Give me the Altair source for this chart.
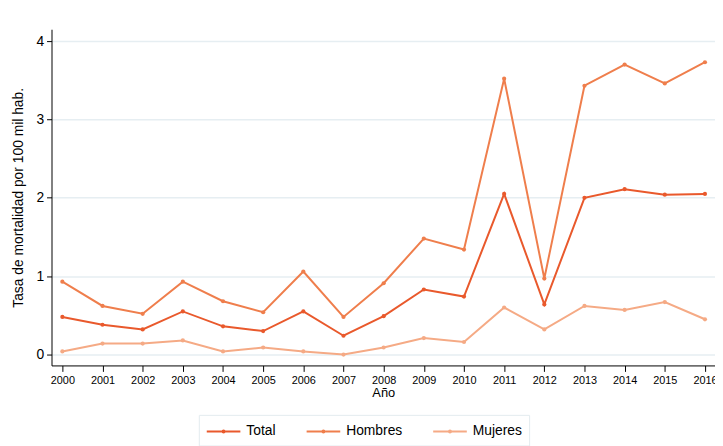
import altair as alt
import pandas as pd

years = list(range(2000, 2017))
total = [0.48, 0.38, 0.32, 0.55, 0.36, 0.30, 0.55, 0.24, 0.49, 0.83, 0.74, 2.05, 0.64, 2.00, 2.11, 2.04, 2.05]
hombres = [0.93, 0.62, 0.52, 0.93, 0.68, 0.54, 1.06, 0.48, 0.91, 1.48, 1.34, 3.52, 0.97, 3.43, 3.70, 3.46, 3.73]
mujeres = [0.04, 0.14, 0.14, 0.18, 0.04, 0.09, 0.04, 0.00, 0.09, 0.21, 0.16, 0.60, 0.32, 0.62, 0.57, 0.67, 0.45]

series = ["Total", "Hombres", "Mujeres"]
colors = ["#e9592c", "#ef7e4c", "#f5aa85"]

rows = []
for name, vals in zip(series, [total, hombres, mujeres]):
    for y, v in zip(years, vals):
        rows.append({"Año": y, "Tasa": v, "Serie": name})
df = pd.DataFrame(rows)

font = "Liberation Sans"
sym = "M-1,0H3M0.88,0A0.12,0.12 0 1,1 1.12,0A0.12,0.12 0 1,1 0.88,0"

chart = alt.Chart(df).mark_line(
    strokeWidth=2,
    point=alt.OverlayMarkDef(size=18, filled=True),
).encode(
    x=alt.X("Año:Q",
            scale=alt.Scale(domain=[1999.73, 2016.25], nice=False, zero=False),
            axis=alt.Axis(values=years, format="d", title="Año", grid=False,
                          labelFontSize=11, titleFontSize=13, tickSize=6,
                          labelPadding=3, titlePadding=1, domainColor="#000000",
                          tickColor="#000000", labelColor="#000000",
                          titleColor="#000000", labelFlush=False,
                          labelFont=font, titleFont=font, titleFontWeight="normal")),
    y=alt.Y("Tasa:Q",
            scale=alt.Scale(domain=[-0.139, 4.151], nice=False, zero=False),
            axis=alt.Axis(values=[0, 1, 2, 3, 4], format="d",
                          title="Tasa de mortalidad por 100 mil hab.",
                          grid=True, gridColor="#e6eef2", gridWidth=1.5,
                          labelFontSize=14, titleFontSize=14, tickSize=5,
                          labelPadding=3, titlePadding=11, domainColor="#000000",
                          tickColor="#000000", labelColor="#000000",
                          titleColor="#000000", labelFont=font, titleFont=font,
                          titleFontWeight="normal")),
    color=alt.Color("Serie:N", sort=series,
                    scale=alt.Scale(domain=series, range=colors),
                    legend=alt.Legend(title=None, orient="none", legendX=149, legendY=390,
                                      direction="horizontal", symbolType=sym,
                                      symbolSize=289, symbolStrokeWidth=2,
                                      labelFontSize=14, labelFont=font,
                                      labelColor="#000000", labelOffset=22,
                                      columnPadding=27, padding=7,
                                      strokeColor="#e3ebef")),
).properties(
    width=671, height=340,
    autosize=alt.AutoSizeParams(type="none"),
    padding={"left": 44, "top": 19, "right": 0, "bottom": 80},
).configure_view(stroke=None)

chart.save("out.html", embed_options={"renderer": "svg", "actions": False})
